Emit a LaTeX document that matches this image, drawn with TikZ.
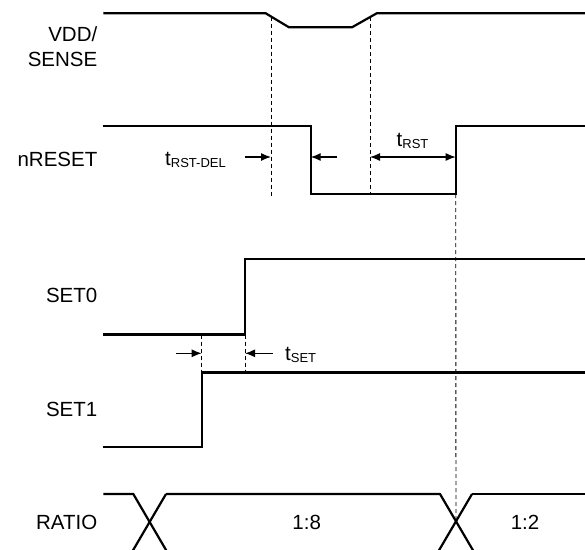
\documentclass[tikz,border=0pt]{standalone}
\usepackage{fontspec}
\setmainfont{Liberation Sans}
\usetikzlibrary{arrows.meta}
\newcommand{\tlab}[1]{{\fontsize{20.5}{24}\selectfont t}\raisebox{-2.5pt}{\fontsize{13}{15}\selectfont #1}}
\tikzset{
  sig/.style={line width=2.2pt, line join=miter},
  guide/.style={line width=0.9pt, dash pattern=on 4pt off 3pt},
  dim/.style={line width=1.2pt, -{Latex[length=10pt,width=8pt]}},
  dimboth/.style={line width=1.2pt, {Latex[length=10pt,width=8pt]}-{Latex[length=10pt,width=8pt]}},
  lbl/.style={anchor=base east, inner sep=0pt, font=\fontsize{20.5}{25}\selectfont},
  tl/.style={anchor=base west, inner sep=0pt},
  val/.style={anchor=base, inner sep=0pt, font=\fontsize{20.5}{25}\selectfont}
}
\begin{document}
\begin{tikzpicture}[x=1pt,y=-1pt]
\useasboundingbox (0,0) rectangle (585,549);
\clip (0,0) rectangle (585,549);
% labels
\node[lbl, align=right] (lvdd) at (97.5,41.7) {VDD/};
\node[lbl] (lsense) at (97.5,66.7) {SENSE};
\node[lbl] (lnrst) at (97.5,166.7) {nRESET};
\node[lbl] (lset0) at (97.5,302.7) {SET0};
\node[lbl] (lset1) at (97.5,416.7) {SET1};
\node[lbl] (lratio) at (97.5,529) {RATIO};
% key coordinates
\coordinate (v0) at (103.3,13.3);
\coordinate (v1) at (265.7,13.3);
\coordinate (v2) at (289,27.3);
\coordinate (v3) at (352,27.3);
\coordinate (v4) at (376.7,13.3);
\coordinate (v5) at (585,13.3);
\coordinate (d1top) at (271,16.5);
\coordinate (d2top) at (370,17.1);
\coordinate (d1bot) at (271,198.3);
\coordinate (d2bot) at (370,194);
\coordinate (n0) at (103.3,126);
\coordinate (n1) at (310.7,126);
\coordinate (n2) at (310.7,194);
\coordinate (n3) at (455.7,194);
\coordinate (n4) at (455.7,126);
\coordinate (n5) at (585,126);
\coordinate (s00) at (103.3,334.5);
\coordinate (s01) at (245,334.5);
\coordinate (s02) at (245,259);
\coordinate (s03) at (585,259);
\coordinate (s10) at (103.3,446.7);
\coordinate (s11) at (201.7,446.7);
\coordinate (s12) at (201.7,372.5);
\coordinate (s13) at (585,372.5);
\coordinate (g1bot) at (201.7,372.5);
\coordinate (g2bot) at (245,372.5);
\coordinate (g1top) at (201.7,334.5);
\coordinate (x2) at (456,521.7);
% VDD/SENSE
\draw[sig] (v0) -- (v1) -- (v2) -- (v3) -- (v4) -- (v5);
% nRESET
\draw[sig] (n0) -- (n1) -- (n2) -- (n3) -- (n4) -- (n5);
% SET0 / SET1
\draw[sig] (s00) -- (s01) -- (s02) -- (s03);
\draw[sig] (s10) -- (s11) -- (s12) -- (s13);
% RATIO
\draw[sig] (103.3,494) -- (133.3,494) -- (167.2,552);
\draw[sig] (166,494) -- (132,552);
\draw[sig] (166,494) -- (440,494) -- (474,552);
\draw[sig] (472,494) -- (438,552);
\draw[sig] (472,494) -- (585,494);
\node[val] (r18) at (306.7,529) {1:8};
\node[val] (r12) at (525,529) {1:2};
% guides
\draw[guide] (d1top) -- (d1bot);
\draw[guide] (d2top) -- (d2bot);
\draw[guide] (n3) -- (x2);
\draw[guide] (g1top) -- (g1bot);
\draw[guide] (s01) -- (g2bot);
% timing arrows
\coordinate (a1s) at (245,157);
\coordinate (a1e) at (271,157);
\coordinate (a2s) at (337,157);
\coordinate (a2e) at (310.7,157);
\coordinate (a3s) at (370,157);
\coordinate (a3e) at (455.7,157);
\coordinate (a4s) at (176,353.3);
\coordinate (a4e) at (201.7,353.3);
\coordinate (a5s) at (273,353.3);
\coordinate (a5e) at (245,353.3);
\draw[dim] (a1s) -- (a1e);
\draw[dim] (a2s) -- (a2e);
\draw[dimboth] (a3s) -- (a3e);
\draw[dim] (a4s) -- (a4e);
\draw[dim] (a5s) -- (a5e);
\node[tl] (trstdel) at (165,165) {\tlab{RST-DEL}};
\node[tl] (trst) at (396.5,146) {\tlab{RST}};
\node[tl] (tset) at (285,360) {\tlab{SET}};
\end{tikzpicture}
\end{document}
